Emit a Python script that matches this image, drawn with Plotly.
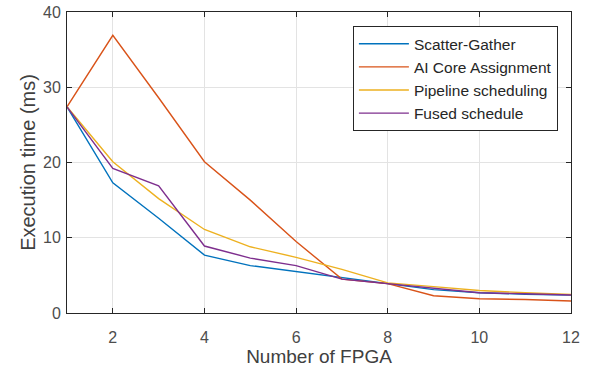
import plotly.graph_objects as go

x_fpga = [1, 2, 3, 4, 5, 6, 7, 8, 9, 10, 11, 12]
scatter_gather = [27.4, 17.3, 12.6, 7.7, 6.3, 5.5, 4.7, 3.9, 3.1, 2.7, 2.5, 2.4]
ai_core = [27.4, 36.9, 28.6, 20.1, 15.0, 9.5, 4.5, 3.9, 2.3, 1.9, 1.8, 1.6]
pipeline = [27.4, 20.1, 15.2, 11.1, 8.8, 7.4, 5.8, 4.0, 3.5, 3.0, 2.7, 2.45]
fused = [27.4, 19.2, 16.9, 8.9, 7.3, 6.3, 4.5, 3.9, 3.3, 2.7, 2.55, 2.4]

names = ["Scatter-Gather", "AI Core Assignment", "Pipeline scheduling", "Fused schedule"]
colors = ["#0072BD", "#D95319", "#EDB120", "#7E2F8E"]
series = [scatter_gather, ai_core, pipeline, fused]

x_ticks = [2, 4, 6, 8, 10, 12]
y_ticks = [0, 10, 20, 30, 40]

FONT = "Liberation Sans, Arial"

fig = go.Figure()
for name, col, ys in zip(names, colors, series):
    fig.add_trace(go.Scatter(x=x_fpga, y=ys, mode="lines", name=name,
                             line=dict(color=col, width=1.4)))

axis_common = dict(
    showline=True, linecolor="#262626", linewidth=1, mirror="ticks",
    ticks="inside", ticklen=5, tickcolor="#262626",
    showgrid=True, gridcolor="#e3e3e3", gridwidth=1, zeroline=False,
    automargin=False,
    tickfont=dict(family=FONT, size=16, color="#4d4d4d"),
)

fig.update_layout(
    width=594, height=374,
    margin=dict(l=67, r=23, t=12, b=61),
    paper_bgcolor="white", plot_bgcolor="white",
    font=dict(family=FONT, color="#4d4d4d"),
    xaxis=dict(range=[1, 12], tickvals=x_ticks, ticklabelstandoff=10,
               title=dict(text="Number of FPGA", font=dict(size=19, color="#404040"), standoff=0),
               **axis_common),
    yaxis=dict(range=[0, 40], tickvals=y_ticks, ticklabelstandoff=2,
               title=dict(text="Execution time (ms)", font=dict(size=20, color="#404040"), standoff=2),
               **axis_common),
    legend=dict(x=0.974, y=0.953, xanchor="right", yanchor="top",
                bgcolor="white", bordercolor="#262626", borderwidth=1,
                font=dict(family=FONT, size=15.5, color="#262626"),
                itemwidth=50, tracegroupgap=0),
    showlegend=True,
)

fig.write_html("out.html",
               config={"displayModeBar": False},
               post_script="document.body.style.margin='0';document.body.style.overflow='hidden';")
